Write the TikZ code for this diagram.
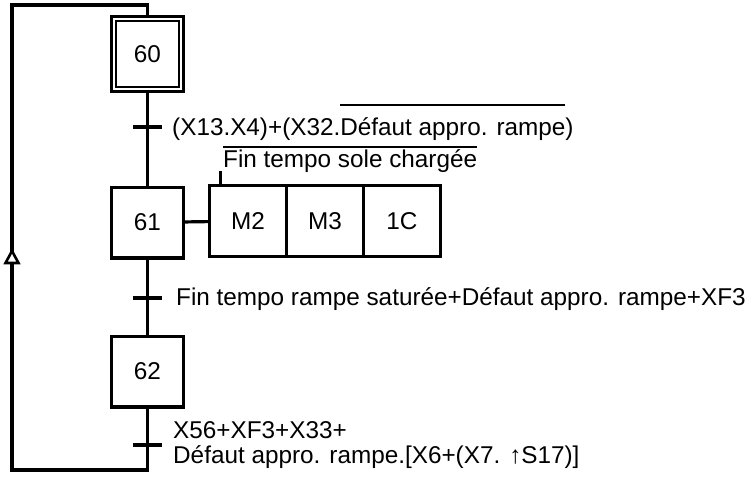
\documentclass[tikz,border=0pt]{standalone}
\usepackage{fontspec}
\setmainfont{Liberation Sans}
\usetikzlibrary{positioning}
\newcommand\barred[2]{\setbox0\hbox{#2}\rlap{\raisebox{#1}{\rule{\wd0}{1.6pt}}}\box0}
\tikzset{
  stepbox/.style={draw,line width=3.2pt,minimum width=71.8pt,minimum height=70.8pt,inner sep=0pt},
  initstep/.style={draw,line width=2.8pt,double,double distance=1.8pt,
    minimum width=67.6pt,minimum height=70.6pt,inner sep=0pt,outer sep=3.7pt},
  actbox/.style={draw,line width=3.2pt,minimum width=76.9pt,minimum height=71pt,
    inner sep=0pt,outer sep=0pt},
  link/.style={line width=3.2pt},
  trans/.style={line width=3.4pt},
  cond/.style={inner sep=0pt,anchor=base west},
  flowtip/.style={line width=2.6pt,fill=white,line join=miter}
}
\begin{document}
\begin{tikzpicture}[x=1pt,y=-1pt,font=\fontsize{24.3}{25}\selectfont]
  \useasboundingbox (0,0) rectangle (747,477);

  % Steps
  \node[initstep] (s60) at (147.5,54) {60};
  \node[stepbox] (s61) at (147.5,222.5) {61};
  \node[stepbox] (s62) at (147.5,371.5) {62};

  % Actions of step 61
  \node[actbox,anchor=west] (m2) at (209.6,221) {M2};
  \node[actbox,right=0pt of m2] (m3) {M3};
  \node[actbox,right=0pt of m3] (c1c) {1C};
  \draw[link] (s61) -- (m2);
  \draw[link] ([xshift=11pt]m2.north west) -- ++(0,-15);

  % Links and loop back
  \coordinate (bl) at (12,470);
  \coordinate (tl) at (12,5);
  \coordinate (tip) at (12,251);
  \draw[link] (s60) -- (s61);
  \draw[link] (s61) -- (s62);
  \draw[link] (s62.south) |- (bl) -- (tl) -| (s60.north);
  \draw[flowtip] (tip) -- ++(-6.5,12) -- ++(13,0) -- cycle;

  % Transitions
  \coordinate (t1) at (147.5,127);
  \coordinate (t2) at (147.5,298);
  \coordinate (t3) at (147.5,445);
  \foreach \t in {t1,t2,t3}
    \draw[trans] ([xshift=-14.5pt]\t) -- ([xshift=14.5pt]\t);

  % Receptivities
  \node[cond] (r1) at (172,135) {(X13.X4)+(X32.\barred{29pt}{Défaut appro. rampe})};
  \node[cond] (r0) at (223,167) {\barred{19pt}{Fin tempo sole chargée}};
  \node[cond] (r2) at (176,305) {Fin tempo rampe saturée+Défaut appro. rampe+XF3};
  \node[cond] (r3) at (173,438) {X56+XF3+X33+};
  \node[cond] (r4) at (173,463) {Défaut appro. rampe.[X6+(X7. ↑S17)]};
\end{tikzpicture}
\end{document}
